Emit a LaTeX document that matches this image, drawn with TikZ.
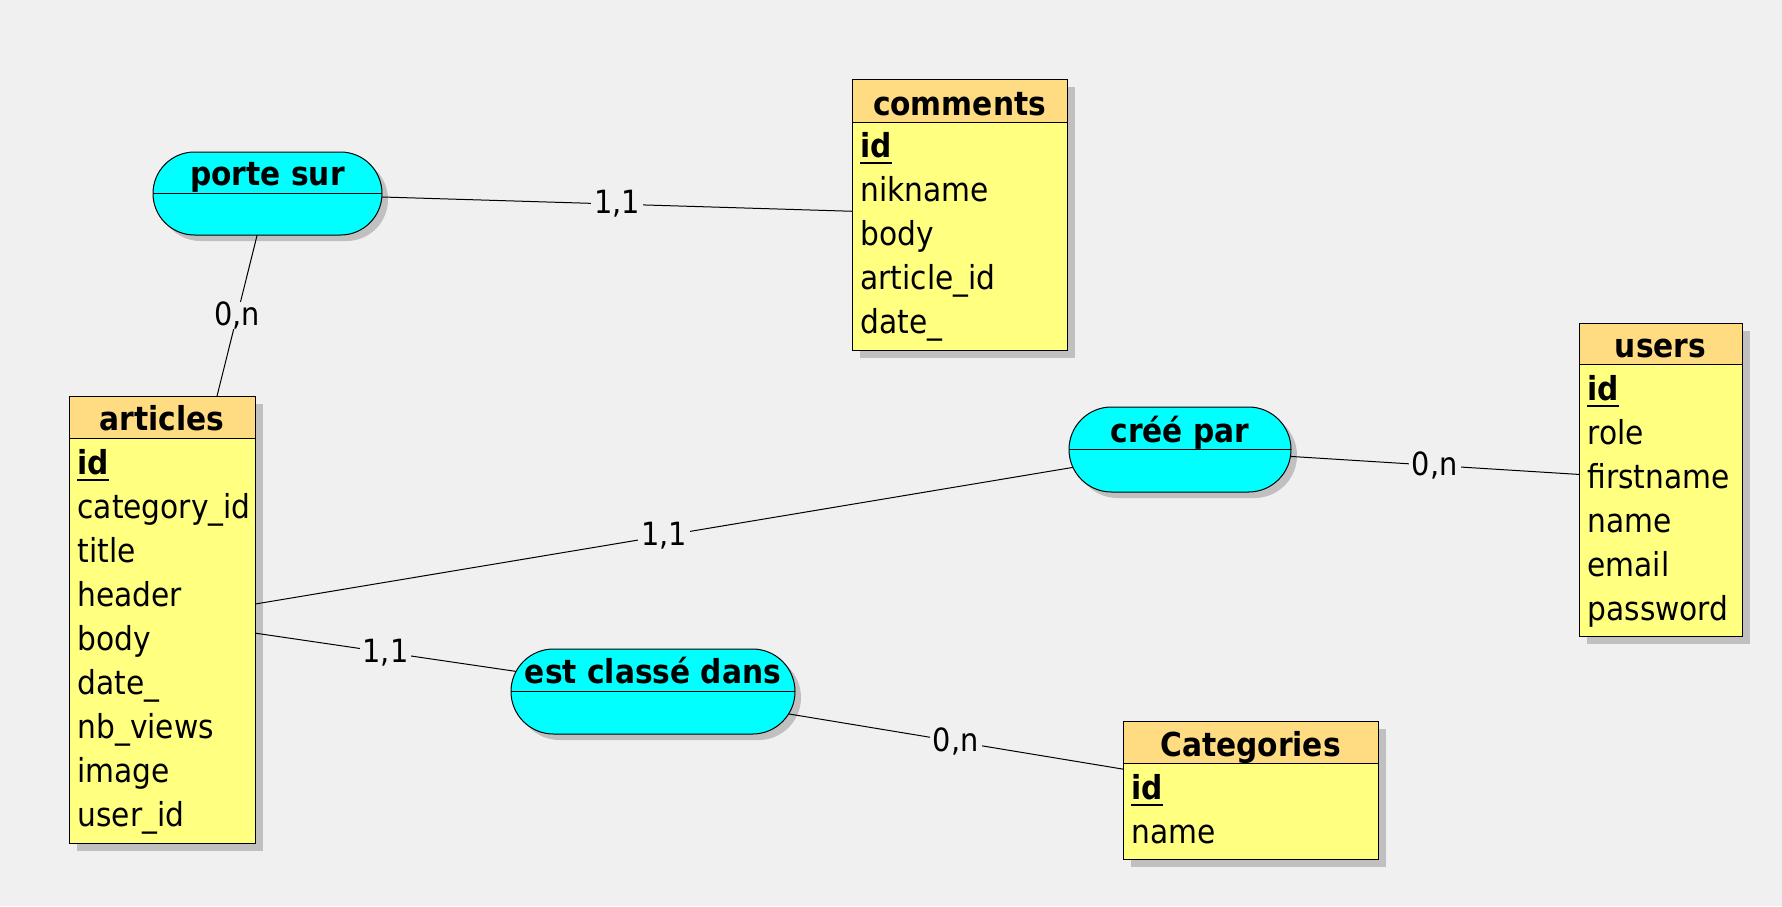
\documentclass[tikz,border=0pt]{standalone}
\usepackage{fontspec}
\setmainfont{DejaVu Sans Condensed}
\usetikzlibrary{shapes.misc,shadows}
\definecolor{bgc}{HTML}{F0F0F0}
\definecolor{relc}{HTML}{00FFFF}
\definecolor{hdrc}{HTML}{FFDC82}
\definecolor{bodyc}{HTML}{FFFF80}
\definecolor{shc}{HTML}{C0C0C0}
\tikzset{
  shd/.style={drop shadow={shadow xshift=#1, shadow yshift=-#1, fill=shc, opacity=1}},
  entity/.style={rectangle, draw=black, fill=bodyc, inner sep=0pt, outer sep=0pt, anchor=north west, shd=8pt},
  relation/.style={rounded rectangle, draw=black, fill=relc, inner sep=0pt, outer sep=0pt, shd=6pt},
  hdr/.style={fill=hdrc},
  attr/.style={font=\fontsize{33}{40}\selectfont, anchor=base west, inner sep=0pt},
  ttl/.style={font=\bfseries\fontsize{33}{40}\selectfont, anchor=base, inner sep=0pt},
  lbl/.style={font=\fontsize{32}{38}\selectfont, fill=bgc, inner xsep=3pt, inner ysep=0pt},
  keyline/.style={line width=1.3pt},
}
\begin{document}
\begin{tikzpicture}[x=1pt, y=-1pt, line width=1pt]
\useasboundingbox[fill=bgc] (0,0) rectangle (1782,906);

% ---------- relations ----------
\node[relation, minimum width=229pt, minimum height=83pt] (porte) at (267.5,193.5) {};
\draw (porte.west) -- (porte.east);
\node[ttl] (porte-t) at (267.5,185) {porte sur};

\node[relation, minimum width=222pt, minimum height=85pt] (cree) at (1180,449.5) {};
\draw (cree.west) -- (cree.east);
\node[ttl] (cree-t) at (1180,442) {créé par};

\node[relation, minimum width=284pt, minimum height=85pt] (est) at (653,691.5) {};
\draw (est.west) -- (est.east);
\node[ttl] (est-t) at (653,683.5) {est classé dans};

% ---------- comments ----------
\node[entity, minimum width=215pt, minimum height=271pt] (comments) at (852,79) {};
\fill[hdr] (852,79) rectangle (1067,122);
\draw (852,122) -- (1067,122);
\draw (comments.north west) rectangle (comments.south east);
\node[ttl] (comments-t) at (959.5,115) {comments};
\node[attr] (comments-id) at (860,157) {\textbf{id}};
\draw[keyline] ([yshift=-6pt]comments-id.base west) -- ([yshift=-6pt]comments-id.base east);
\node[attr] (comments-a2) at (860,201) {nikname};
\node[attr] (comments-a3) at (860,245) {body};
\node[attr] (comments-a4) at (860,289) {article\_id};
\node[attr] (comments-a5) at (860,333) {date\_};

% ---------- articles ----------
\node[entity, minimum width=186pt, minimum height=447pt] (articles) at (69,396) {};
\fill[hdr] (69,396) rectangle (255,438);
\draw (69,438) -- (255,438);
\draw (articles.north west) rectangle (articles.south east);
\node[ttl] (articles-t) at (162,430) {articles};
\node[attr] (articles-id) at (77,474) {\textbf{id}};
\draw[keyline] ([yshift=-6pt]articles-id.base west) -- ([yshift=-6pt]articles-id.base east);
\node[attr] (articles-a2) at (77,518) {category\_id};
\node[attr] (articles-a3) at (77,562) {title};
\node[attr] (articles-a4) at (77,606) {header};
\node[attr] (articles-a5) at (77,650) {body};
\node[attr] (articles-a6) at (77,694) {date\_};
\node[attr] (articles-a7) at (77,738) {nb\_views};
\node[attr] (articles-a8) at (77,782) {image};
\node[attr] (articles-a9) at (77,826) {user\_id};

% ---------- users ----------
\node[entity, minimum width=163pt, minimum height=313pt] (users) at (1579,323) {};
\fill[hdr] (1579,323) rectangle (1742,364);
\draw (1579,364) -- (1742,364);
\draw (users.north west) rectangle (users.south east);
\node[ttl] (users-t) at (1660.5,357) {users};
\node[attr] (users-id) at (1587,400) {\textbf{id}};
\draw[keyline] ([yshift=-6pt]users-id.base west) -- ([yshift=-6pt]users-id.base east);
\node[attr] (users-a2) at (1587,444) {role};
\node[attr] (users-a3) at (1587,488) {firstname};
\node[attr] (users-a4) at (1587,532) {name};
\node[attr] (users-a5) at (1587,576) {email};
\node[attr] (users-a6) at (1587,620) {password};

% ---------- Categories ----------
\node[entity, minimum width=255pt, minimum height=138pt] (cat) at (1123,721) {};
\fill[hdr] (1123,721) rectangle (1378,763);
\draw (1123,763) -- (1378,763);
\draw (cat.north west) rectangle (cat.south east);
\node[ttl] (cat-t) at (1250.5,756) {Categories};
\node[attr] (cat-id) at (1131,799) {\textbf{id}};
\draw[keyline] ([yshift=-6pt]cat-id.base west) -- ([yshift=-6pt]cat-id.base east);
\node[attr] (cat-a2) at (1131,843) {name};

% ---------- connectors ----------
\draw (porte) -- node[lbl] (l1) {1,1} (comments);
\draw (porte) -- node[lbl] (l2) {0,n} (articles);
\draw (cree) -- node[lbl] (l3) {1,1} (articles);
\draw (cree) -- node[lbl] (l4) {0,n} (users);
\draw (est) -- node[lbl] (l5) {1,1} (articles);
\draw (est) -- node[lbl] (l6) {0,n} (cat);
\end{tikzpicture}
\end{document}
